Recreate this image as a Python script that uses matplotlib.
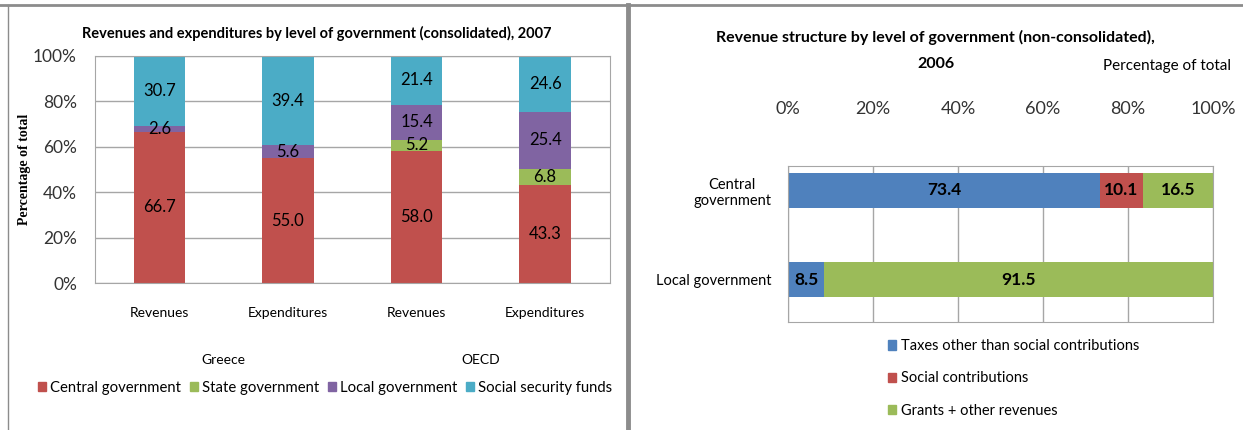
import numpy as np
import matplotlib
matplotlib.use("Agg")
import matplotlib.pyplot as plt
from matplotlib.patches import Patch
from matplotlib.ticker import PercentFormatter

plt.rcParams['font.family'] = ['Lato', 'DejaVu Sans']

# left chart: consolidated revenues / expenditures, 2007
left_cats = ["Revenues", "Expenditures", "Revenues", "Expenditures"]
left_groups = ["Greece", "OECD"]
left_series = ["Central government", "State government", "Local government", "Social security funds"]
central = [66.7, 55.0, 58.0, 43.3]
state = [0.0, 0.0, 5.2, 6.8]
local = [2.6, 5.6, 15.4, 25.4]
ssf = [30.7, 39.4, 21.4, 24.6]
left_colors = ["#C0504D", "#9BBB59", "#8064A2", "#4BACC6"]

# right chart: revenue structure, 2006
right_cats = ["Central\ngovernment", "Local government"]
right_series = ["Taxes other than social contributions", "Social contributions", "Grants + other revenues"]
taxes = [73.4, 8.5]
social = [10.1, 0.0]
grants = [16.5, 91.5]
right_colors = ["#4F81BD", "#C0504D", "#9BBB59"]

W, H = 1243, 430
fig = plt.figure(figsize=(W / 100, H / 100), dpi=100)


def px_axes(x0, y0, x1, y1):
    return fig.add_axes([x0 / W, 1 - y1 / H, (x1 - x0) / W, (y1 - y0) / H])


grid_c = "#A6A6A6"

# ---- left panel
ax = px_axes(95, 56, 609.5, 283)
x = np.arange(len(left_cats))
bottom = np.zeros(len(left_cats))
for name, vals, col in zip(left_series, [central, state, local, ssf], left_colors):
    vals = np.array(vals)
    ax.bar(x, vals, 0.4, bottom=bottom, color=col, zorder=2)
    for xi, b, v in zip(x, bottom, vals):
        if v > 0:
            ax.text(xi, b + v / 2, f"{v:.1f}", ha="center", va="center", fontsize=12, zorder=3)
    bottom += vals
ax.set_xlim(-0.5, len(left_cats) - 0.5)
ax.set_ylim(0, 100)
ax.set_yticks(np.arange(0, 101, 20))
ax.yaxis.set_major_formatter(PercentFormatter(decimals=0))
ax.set_xticks(x)
ax.set_xticklabels(left_cats, fontsize=10)
ax.tick_params(axis="x", length=0, pad=17)
ax.tick_params(axis="y", length=0, pad=13, labelsize=12.5, colors="#333333")
ax.tick_params(axis="x", colors="black")
ax.yaxis.grid(True, color=grid_c, lw=1, zorder=0)
for s in ax.spines.values():
    s.set_color(grid_c)
ax.set_ylabel("Percentage of total", fontsize=10, fontweight="bold", family="Liberation Serif")
ax.yaxis.set_label_coords(-0.125, 0.5)
for gi, g in enumerate(left_groups):
    ax.text(gi * 2 + 0.5, -0.34, g, transform=ax.get_xaxis_transform(), ha="center", va="center", fontsize=10)
fig.text(317 / W, 1 - 33 / H, "Revenues and expenditures by level of government (consolidated), 2007",
         ha="center", va="center", fontsize=10.5, fontweight="bold")
handles = [Patch(color=c, label=n) for n, c in zip(left_series, left_colors)]
fig.legend(handles=handles, loc="center", bbox_to_anchor=(325 / W, 1 - 388 / H), ncol=4, frameon=False,
           fontsize=10.7, handlelength=0.55, handleheight=0.6, handletextpad=0.25, columnspacing=0.6)

# ---- right panel
ax2 = px_axes(788, 166, 1213, 322)
y = np.arange(len(right_cats))
left = np.zeros(len(right_cats))
for name, vals, col in zip(right_series, [taxes, social, grants], right_colors):
    vals = np.array(vals)
    ax2.barh(y, vals, 0.39, left=left, color=col, zorder=2)
    for yi, l, v in zip(y, left, vals):
        if v > 0:
            ax2.text(l + v / 2, yi, f"{v:.1f}", ha="center", va="center", fontsize=12.5,
                     fontweight="bold", zorder=3)
    left += vals
ax2.set_xlim(0, 100)
ax2.set_ylim(1.475, -0.27)
ax2.set_yticks(y)
ax2.set_yticklabels(right_cats, fontsize=10.5, multialignment="center")
ax2.set_xticks(np.arange(0, 101, 20))
ax2.xaxis.set_major_formatter(PercentFormatter(decimals=0))
ax2.xaxis.tick_top()
ax2.tick_params(axis="x", length=0, pad=35, labelsize=13, colors="#333333")
ax2.tick_params(axis="y", length=0, pad=12)
ax2.xaxis.grid(True, color=grid_c, lw=1, zorder=0)
for s in ax2.spines.values():
    s.set_color(grid_c)
fig.text(935 / W, 1 - 37 / H, "Revenue structure by level of government (non-consolidated),",
         ha="center", va="center", fontsize=11.5, fontweight="bold")
fig.text(936 / W, 1 - 64 / H, "2006", ha="center", va="center", fontsize=11.5, fontweight="bold")
fig.text(1167 / W, 1 - 66 / H, "Percentage of total", ha="center", va="center", fontsize=11)
handles2 = [Patch(color=c, label=n) for n, c in zip(right_series, right_colors)]
fig.legend(handles=handles2, loc="upper left", bbox_to_anchor=(875 / W, 1 - 326 / H), ncol=1, frameon=False,
           fontsize=10.5, handlelength=0.55, handleheight=0.6, handletextpad=0.3, labelspacing=1.25)

# panel frames
fig.add_artist(plt.Line2D([0, 1], [1 - 5 / H, 1 - 5 / H], color="#8C8C8C", lw=2, transform=fig.transFigure))
fig.add_artist(plt.Line2D([8 / W, 8 / W], [0, 1 - 5 / H], color="#8C8C8C", lw=1, transform=fig.transFigure))
fig.add_artist(plt.Line2D([628 / W, 628 / W], [0, 1 - 5 / H], color="#8C8C8C", lw=3.5, transform=fig.transFigure))

fig.savefig("out.png", dpi=100)
